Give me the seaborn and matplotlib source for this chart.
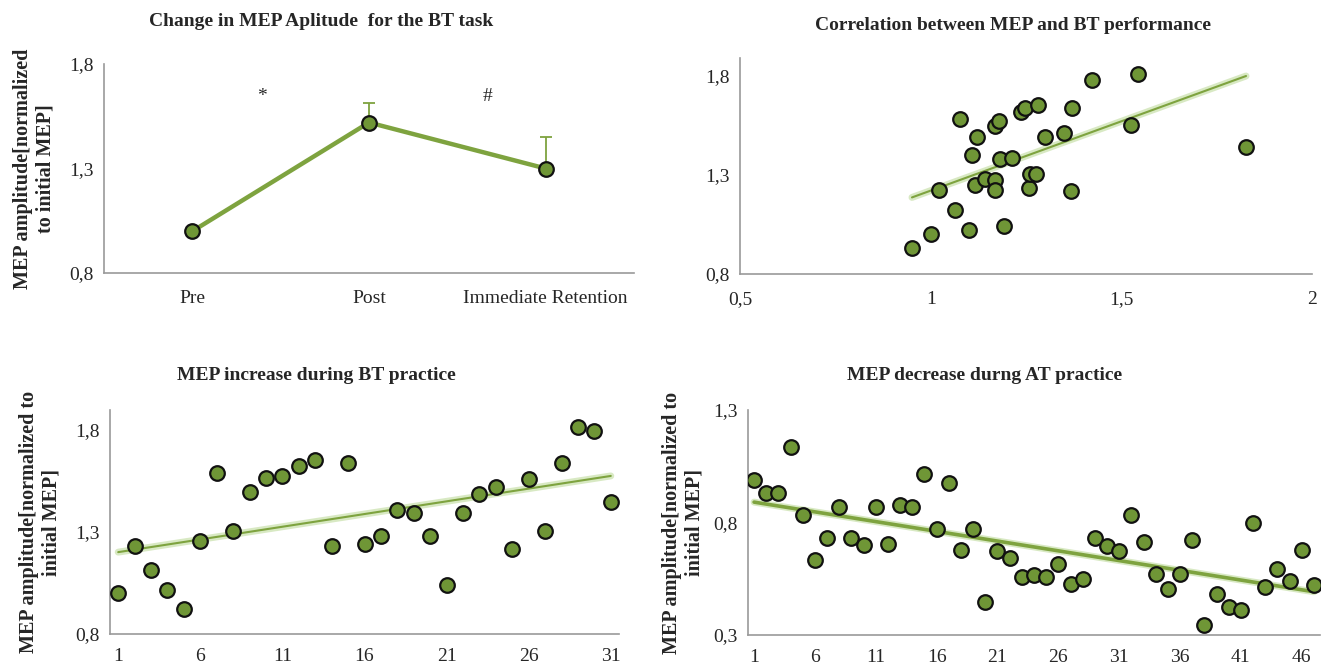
import numpy as np
import pandas as pd
import matplotlib
matplotlib.use("Agg")
import matplotlib.pyplot as plt
import seaborn as sns

# Panel A: MEP change across phases
phases = ["Pre", "Post", "Immediate Retention"]
phase_mean = [1.00, 1.52, 1.30]
phase_err_up = [0.0, 0.095, 0.15]

# Panel B: MEP vs BT performance
bt_perf = [0.951, 1.001, 1.022, 1.064, 1.076, 1.101, 1.109, 1.117, 1.121, 1.142,
           1.169, 1.170, 1.169, 1.178, 1.181, 1.192, 1.213, 1.238, 1.247, 1.259,
           1.261, 1.276, 1.281, 1.301, 1.350, 1.367, 1.370, 1.422, 1.526, 1.543,
           1.827]
bt_mep = [0.931, 1.002, 1.225, 1.121, 1.580, 1.020, 1.400, 1.250, 1.489, 1.281,
          1.276, 1.225, 1.548, 1.571, 1.380, 1.044, 1.383, 1.617, 1.637, 1.234,
          1.303, 1.303, 1.652, 1.489, 1.513, 1.218, 1.639, 1.778, 1.551, 1.810,
          1.439]

# Panel C: MEP during BT practice (trials 1..31)
bt_practice = [0.999, 1.231, 1.112, 1.016, 0.921, 1.256, 1.591, 1.303, 1.496, 1.565,
               1.575, 1.624, 1.655, 1.231, 1.640, 1.241, 1.280, 1.408, 1.392, 1.280,
               1.042, 1.392, 1.486, 1.519, 1.215, 1.558, 1.303, 1.640, 1.816, 1.793,
               1.449]

# Panel D: MEP during AT practice (trials 1..47)
at_practice = [0.990, 0.932, 0.932, 1.137, 0.833, 0.635, 0.730, 0.870, 0.730, 0.702,
               0.870, 0.704, 0.877, 0.870, 1.015, 0.773, 0.977, 0.680, 0.770, 0.447,
               0.674, 0.644, 0.558, 0.567, 0.558, 0.615, 0.528, 0.548, 0.730, 0.695,
               0.672, 0.833, 0.715, 0.573, 0.503, 0.573, 0.723, 0.345, 0.484, 0.426,
               0.411, 0.797, 0.514, 0.594, 0.540, 0.678, 0.523]

y_ticks_a = [0.8, 1.3, 1.8]
y_labels_a = ["0,8", "1,3", "1,8"]
x_ticks_b = [0.5, 1.0, 1.5, 2.0]
x_labels_b = ["0,5", "1", "1,5", "2"]
y_ticks_d = [0.3, 0.8, 1.3]
y_labels_d = ["0,3", "0,8", "1,3"]

titles = ["Change in MEP Aplitude  for the BT task",
          "Correlation between MEP and BT performance",
          "MEP increase during BT practice",
          "MEP decrease durng AT practice"]

sns.set_style("white")
plt.rcParams['font.family'] = ['Liberation Serif', 'DejaVu Serif']

fill = '#6f9636'
line_c = '#7ea33f'
glow = '#c8e0aa'
axis_c = '#9a9a9a'
tick_fs = 14
title_fs = 14
ylab_fs = 14.5
ms = 10.5

W, H = 1324, 668
fig = plt.figure(figsize=(W / 100, H / 100), dpi=100)


def style_axes(ax):
    for s in ['top', 'right']:
        ax.spines[s].set_visible(False)
    for s in ['left', 'bottom']:
        ax.spines[s].set_color(axis_c)
        ax.spines[s].set_linewidth(1.2)
    ax.tick_params(axis='both', which='major', direction='out', length=4,
                   color=axis_c, labelsize=tick_fs, width=1.2)
    ax.tick_params(axis='both', which='minor', length=0, labelsize=tick_fs)


def category_axis(ax, n, labels_at, labels):
    ax.set_xlim(0.5, n + 0.5)
    bounds = [0.5] + [v - 0.5 for v in labels_at[1:]] + [n + 0.5]
    ax.set_xticks(bounds)
    ax.set_xticklabels([])
    ax.set_xticks(labels_at, minor=True)
    ax.set_xticklabels(labels, minor=True)
    ax.tick_params(axis='x', which='minor', pad=10)


def scatter_fit(ax, x, y, lw=1.5):
    df = pd.DataFrame({'x': x, 'y': y})
    sns.regplot(data=df, x='x', y='y', ax=ax, scatter=False, ci=None,
                line_kws={'color': glow, 'linewidth': 5, 'alpha': 0.7,
                          'solid_capstyle': 'round'})
    sns.regplot(data=df, x='x', y='y', ax=ax, scatter=False, ci=None,
                line_kws={'color': line_c, 'linewidth': lw})
    sns.scatterplot(data=df, x='x', y='y', ax=ax, s=ms ** 2, color=fill,
                    edgecolor='#111111', linewidth=1.6, zorder=5)
    ax.set_xlabel("")
    ax.set_ylabel("")


def fig_title(text, cx, cy):
    fig.text(cx / W, 1 - cy / H, text, ha='center', va='center',
             fontsize=title_fs, fontweight='bold')


ylab_kw = dict(fontsize=ylab_fs, fontweight='bold', linespacing=1.15)

# ---- Panel A
ax1 = fig.add_axes([104 / W, 1 - 273 / H, 530 / W, 209 / H])
df_a = pd.DataFrame({'pos': [0, 1, 2], 'mep': phase_mean})
ax1.errorbar(df_a['pos'], df_a['mep'], yerr=[[0, 0, 0], phase_err_up],
             fmt='none', ecolor=line_c, elinewidth=1.3, capsize=4, capthick=1.3)
sns.lineplot(data=df_a, x='pos', y='mep', ax=ax1, color=line_c, linewidth=3.2,
             marker='o', markersize=ms, markerfacecolor=fill,
             markeredgecolor='#111111', markeredgewidth=1.6)
ax1.set_xlim(-0.5, 2.5)
ax1.set_ylim(0.8, 1.8)
style_axes(ax1)
ax1.set_xticks([-0.5, 0.5, 1.5, 2.5])
ax1.set_xticklabels([])
ax1.set_xticks([0, 1, 2], minor=True)
ax1.set_xticklabels(phases, minor=True)
ax1.tick_params(axis='x', which='minor', pad=12)
ax1.set_yticks(y_ticks_a)
ax1.set_yticklabels(y_labels_a)
ax1.set_xlabel("")
ax1.set_ylabel("MEP amplitude[normalized\nto initial MEP]", labelpad=10, **ylab_kw)
ax1.text(0.396, 1.645, "*", ha='center', va='center', fontsize=14)
ax1.text(1.67, 1.645, "#", ha='center', va='center', fontsize=14)
fig_title(titles[0], 321, 22)

# ---- Panel B
ax2 = fig.add_axes([740 / W, 1 - 274 / H, 572 / W, 216 / H])
scatter_fit(ax2, bt_perf, bt_mep)
ax2.set_xlim(0.5, 2.0)
ax2.set_ylim(0.8, 1.89)
style_axes(ax2)
ax2.set_xticks(x_ticks_b)
ax2.set_xticklabels(x_labels_b)
ax2.tick_params(axis='x', pad=8)
ax2.set_yticks(y_ticks_a)
ax2.set_yticklabels(y_labels_a)
fig_title(titles[1], 1013, 25)

# ---- Panel C
ax3 = fig.add_axes([110 / W, 1 - 634 / H, 509 / W, 224 / H])
trials_c = list(range(1, len(bt_practice) + 1))
scatter_fit(ax3, trials_c, bt_practice)
ax3.set_ylim(0.8, 1.898)
style_axes(ax3)
category_axis(ax3, len(bt_practice), trials_c[::5], [str(t) for t in trials_c[::5]])
ax3.set_yticks(y_ticks_a)
ax3.set_yticklabels(y_labels_a)
ax3.set_ylabel("MEP amplitude[normalized to\ninitial MEP]", labelpad=10, **ylab_kw)
fig_title(titles[2], 316, 375)

# ---- Panel D
ax4 = fig.add_axes([748 / W, 1 - 635 / H, 572 / W, 225 / H])
trials_d = list(range(1, len(at_practice) + 1))
scatter_fit(ax4, trials_d, at_practice, lw=2.6)
ax4.set_ylim(0.3, 1.3)
style_axes(ax4)
category_axis(ax4, len(at_practice), trials_d[::5], [str(t) for t in trials_d[::5]])
ax4.set_yticks(y_ticks_d)
ax4.set_yticklabels(y_labels_d)
ax4.set_ylabel("MEP amplitude[normalized to\ninitial MEP]", labelpad=6, **ylab_kw)
fig_title(titles[3], 985, 376)

fig.savefig("out.png", dpi=100, facecolor='white')
